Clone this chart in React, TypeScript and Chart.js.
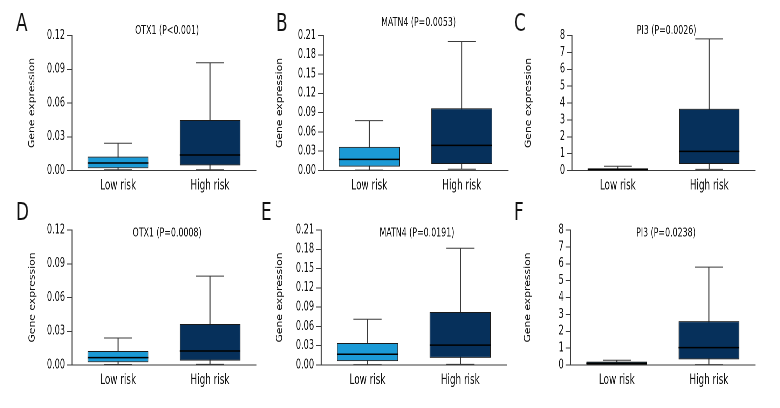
import React, { useEffect, useRef } from "react";
import { Chart, registerables } from "chart.js";
Chart.register(...registerables);

// ---------- DATA ----------
const categories = ["Low risk", "High risk"];
// each array: [min, q1, median, q3, max]
const otx1TrainLow = [0.0007, 0.002, 0.0067, 0.0123, 0.0242];
const otx1TrainHigh = [0.0007, 0.0046, 0.0138, 0.0449, 0.0958];
const matn4TrainLow = [0.0005, 0.006, 0.0173, 0.0368, 0.0776];
const matn4TrainHigh = [0.002, 0.0102, 0.039, 0.0968, 0.2006];
const pi3TrainLow = [0.0, 0.02, 0.06, 0.13, 0.25];
const pi3TrainHigh = [0.07, 0.385, 1.13, 3.66, 7.8];
const otx1TestLow = [0.0005, 0.0024, 0.0066, 0.0124, 0.024];
const otx1TestHigh = [0.0006, 0.0039, 0.0124, 0.0364, 0.079];
const matn4TestLow = [0.0005, 0.006, 0.0167, 0.0342, 0.0712];
const matn4TestHigh = [0.001, 0.011, 0.031, 0.0825, 0.1816];
const pi3TestLow = [0.0, 0.03, 0.1, 0.2, 0.28];
const pi3TestHigh = [0.02, 0.33, 1.03, 2.6, 5.8];

const panelTitles = [
  "OTX1 (P<0.001)",
  "MATN4 (P=0.0053)",
  "PI3 (P=0.0026)",
  "OTX1 (P=0.0008)",
  "MATN4 (P=0.0191)",
  "PI3 (P=0.0238)",
];
const panelLetters = ["A", "B", "C", "D", "E", "F"];
const yTitle = "Gene expression";
const yMaxes = [0.12, 0.21, 8, 0.12, 0.21, 8];
const ySteps = [0.03, 0.03, 1, 0.03, 0.03, 1];
const yDecimals = [2, 2, 0, 2, 2, 0];
const panelStats = [
  [otx1TrainLow, otx1TrainHigh],
  [matn4TrainLow, matn4TrainHigh],
  [pi3TrainLow, pi3TrainHigh],
  [otx1TestLow, otx1TestHigh],
  [matn4TestLow, matn4TestHigh],
  [pi3TestLow, pi3TestHigh],
];

// ---------- LAYOUT / STYLE ----------
const FONT = '"Liberation Sans Narrow", "DejaVu Sans Condensed", "Liberation Sans", sans-serif';
const LOW_COLOR = "#1b9ad6";
const HIGH_COLOR = "#06305b";
const AXIS_COLOR = "#3a3a3a";
const TEXT_COLOR = "#111";
const S = 0.7; // horizontal condensing (reference uses a condensed typeface)
const CW = 260; // displayed width
const CH = 204;
const CWL = CW / S; // logical drawing width

// display coordinates relative to each canvas: y-title centre, axis x, axis end
const layouts = [
  { left: 0, top: 0, tcx: 32, ax: 72, ae: 256, pt: 35.5, xh: 33.5, tdy: -5 },
  { left: 260, top: 0, tcx: 20, ax: 63, ae: 248, pt: 35.5, xh: 33.5, tdy: -13 },
  { left: 520, top: 0, tcx: 8.5, ax: 52, ae: 235, pt: 35.5, xh: 33.5, tdy: -5 },
  { left: 0, top: 204, tcx: 32.5, ax: 72, ae: 256, pt: 26, xh: 43, tdy: 3 },
  { left: 260, top: 204, tcx: 20, ax: 61, ae: 246.7, pt: 26, xh: 43, tdy: 3 },
  { left: 520, top: 204, tcx: 8, ax: 50.7, ae: 235, pt: 26, xh: 43, tdy: 3 },
];
const letterPos = [
  { x: 16, y: 11 },
  { x: 276, y: 11 },
  { x: 514, y: 11 },
  { x: 16, y: 200 },
  { x: 261, y: 200 },
  { x: 514, y: 200 },
];
const Y_TITLE_SIZE = 12;
const TICK_SIZE = 13;
const XLABEL_SIZE = 14;
const TITLE_SIZE = 12.5;

function Panel({ idx }: { idx: number }) {
  const ref = useRef<HTMLCanvasElement>(null);
  const L = layouts[idx];
  useEffect(() => {
    const stats = panelStats[idx];
    const title = panelTitles[idx];
    const halfLine = (Y_TITLE_SIZE * 1.2) / 2;
    const padLeft = L.tcx / S - halfLine;
    const yWidth = L.ax / S - padLeft;
    const padRight = CWL - L.ae / S;
    const boxPlugin = {
      id: "boxplot" + idx,
      beforeDatasetsDraw(chart: any) {
        const ctx = chart.ctx;
        const ys = chart.scales.y;
        const meta = chart.getDatasetMeta(0);
        ctx.save();
        ctx.strokeStyle = AXIS_COLOR;
        meta.data.forEach((bar: any, i: number) => {
          const s = stats[i];
          const x = bar.x;
          const half = bar.width * 0.23;
          const yMin = ys.getPixelForValue(s[0]);
          const yMaxP = ys.getPixelForValue(s[4]);
          ctx.lineWidth = 1 / S;
          ctx.beginPath();
          ctx.moveTo(x, yMin);
          ctx.lineTo(x, yMaxP);
          ctx.stroke();
          ctx.lineWidth = 1;
          ctx.beginPath();
          ctx.moveTo(x - half, yMin);
          ctx.lineTo(x + half, yMin);
          ctx.moveTo(x - half, yMaxP);
          ctx.lineTo(x + half, yMaxP);
          ctx.stroke();
        });
        ctx.restore();
      },
      afterDatasetsDraw(chart: any) {
        const ctx = chart.ctx;
        const ys = chart.scales.y;
        const meta = chart.getDatasetMeta(0);
        ctx.save();
        ctx.strokeStyle = "#000";
        ctx.lineWidth = 1.5;
        meta.data.forEach((bar: any, i: number) => {
          const s = stats[i];
          const y = ys.getPixelForValue(s[2]);
          ctx.beginPath();
          ctx.moveTo(bar.x - bar.width / 2, y);
          ctx.lineTo(bar.x + bar.width / 2, y);
          ctx.stroke();
        });
        const a = chart.chartArea;
        ctx.fillStyle = TEXT_COLOR;
        ctx.font = `${TITLE_SIZE}px ${FONT}`;
        ctx.textAlign = "center";
        ctx.textBaseline = "middle";
        ctx.fillText(title, (a.left + a.right) / 2 + 3 / S, a.top + L.tdy);
        ctx.restore();
      },
    };
    const canvas = ref.current as HTMLCanvasElement;
    const chart = new Chart(canvas, {
      type: "bar",
      data: {
        labels: categories,
        datasets: [
          {
            data: stats.map((s) => [s[1], s[3]]) as any,
            backgroundColor: [LOW_COLOR, HIGH_COLOR],
            borderColor: "#1a1a1a",
            borderWidth: 1,
            borderSkipped: false,
            categoryPercentage: 1,
            barPercentage: 0.66,
          },
        ],
      },
      options: {
        animation: false,
        responsive: false,
        maintainAspectRatio: false,
        devicePixelRatio: 2,
        events: [],
        layout: { padding: { left: padLeft, right: padRight, top: L.pt, bottom: 0 } },
        plugins: { legend: { display: false }, tooltip: { enabled: false }, title: { display: false } },
        scales: {
          x: {
            type: "category",
            offset: true,
            grid: { display: false, drawTicks: false },
            border: { display: true, color: AXIS_COLOR, width: 1 },
            ticks: { font: { family: FONT, size: XLABEL_SIZE }, color: TEXT_COLOR, padding: 7, maxRotation: 0, autoSkip: false },
            afterFit: (s: any) => {
              s.height = L.xh;
            },
          },
          y: {
            min: 0,
            max: yMaxes[idx],
            grid: { display: true, drawOnChartArea: false, drawTicks: true, tickLength: 5 / S, color: AXIS_COLOR },
            border: { display: true, color: AXIS_COLOR, width: 1 / S },
            ticks: {
              stepSize: ySteps[idx],
              autoSkip: false,
              font: { family: FONT, size: TICK_SIZE },
              color: TEXT_COLOR,
              padding: 2 / S,
              callback: (v: any) => Number(v).toFixed(yDecimals[idx]),
            },
            title: { display: true, text: yTitle, font: { family: FONT, size: Y_TITLE_SIZE }, color: TEXT_COLOR, padding: 0 },
            afterFit: (s: any) => {
              s.width = yWidth;
            },
          },
        },
      },
      plugins: [boxPlugin],
    });
    canvas.style.width = CW + "px";
    canvas.style.height = CH + "px";
    return () => chart.destroy();
  }, [idx]);
  return (
    <canvas
      ref={ref}
      width={CWL}
      height={CH}
      style={{ position: "absolute", left: L.left, top: L.top, width: CW, height: CH }}
    />
  );
}

export default function App() {
  return (
    <div style={{ position: "fixed", left: 0, top: 0, width: 780, height: 408, background: "#fff", overflow: "hidden" }}>
      {[0, 1, 2, 3, 4, 5].map((i) => (
        <Panel key={i} idx={i} />
      ))}
      {panelLetters.map((l, i) => (
        <div
          key={l}
          style={{
            position: "absolute",
            left: letterPos[i].x,
            top: letterPos[i].y,
            fontFamily: FONT,
            fontSize: 24,
            lineHeight: "24px",
            color: "#111",
            transform: `scaleX(0.78)`,
            transformOrigin: "left top",
          }}
        >
          {l}
        </div>
      ))}
    </div>
  );
}
